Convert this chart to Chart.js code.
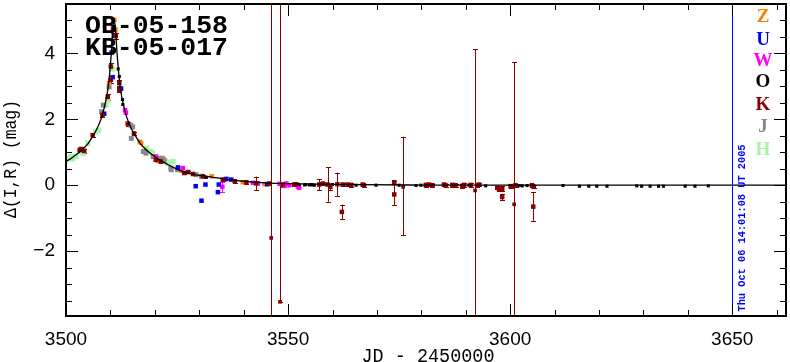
<!DOCTYPE html>
<html><head><meta charset="utf-8">
<script src="https://cdn.jsdelivr.net/npm/chart.js@4.4.0/dist/chart.umd.min.js"></script>
<style>html,body{margin:0;padding:0;background:#fff;overflow:hidden}</style>
</head><body>
<canvas id="c" width="790" height="362" style="display:block;width:790px;height:362px"></canvas>
<script>
// ---------- axis ticks ----------
const xTickLabels = [3500, 3550, 3600, 3650];
const yTickLabels = [-2, 0, 2, 4];
const xRange = [3500, 3662.1];
const yRange = [-3.97, 5.5];

// ---------- legend ----------
const seriesNames = ['Z', 'U', 'W', 'O', 'K', 'J', 'H'];
const seriesColors = ['#ff8000', '#0000ff', '#ff00ff', '#000000', '#8b0000', '#888888', '#aaf2aa'];

// ---------- model curve ----------
const modelT = [3500, 3501, 3502, 3503, 3504, 3505, 3506, 3507, 3508, 3508.7, 3509.3, 3509.8, 3510.2, 3510.5, 3510.85,
  3511.2, 3511.5, 3511.9, 3512.4, 3513.0, 3513.7, 3514.7, 3515.7, 3516.7, 3517.7, 3518.7, 3519.7, 3520.7, 3521.7,
  3523, 3524.5, 3526, 3528, 3530, 3533, 3536, 3540, 3545, 3550, 3556, 3565, 3580, 3600, 3628, 3662.1];
const modelM = [0.72, 0.80, 0.90, 1.00, 1.12, 1.27, 1.48, 1.72, 2.05, 2.40, 2.80, 3.35, 4.00, 4.60, 5.05,
  4.60, 4.00, 3.35, 2.80, 2.40, 2.05, 1.72, 1.48, 1.27, 1.12, 1.00, 0.90, 0.80, 0.72,
  0.62, 0.52, 0.43, 0.35, 0.30, 0.24, 0.18, 0.12, 0.07, 0.045, 0.03, 0.015, 0.005, 0.0, 0.0, 0.0];

// ---------- Z ----------
const zT = [3509.7, 3510.9, 3511.1, 3516.6, 3516.9, 3520.6, 3526.0, 3532.8, 3539.8, 3544.7, 3545.4, 3549.4];
const zM = [3.10, 5.02, 4.70, 1.32, 1.28, 0.74, 0.44, 0.27, 0.09, 0.03, 0.04, 0.03];
// ---------- U ----------
const uT = [3508.6, 3510.3, 3510.5, 3510.8, 3512.4, 3525.2, 3529.2, 3530.5, 3531.4, 3534.2, 3534.4, 3536.1, 3537.2, 3545.3];
const uM = [2.17, 4.03, 3.28, 4.53, 2.93, 0.54, -0.03, -0.47, 0.02, -0.21, 0.02, 0.19, 0.17, 0.03];
// ---------- W ----------
const wT = [3513.3, 3513.5, 3520.3, 3526.3, 3535.2, 3535.7, 3542.1, 3543.2, 3548.1, 3549.2, 3549.6, 3550.3, 3551.8, 3552.2, 3552.5];
const wM = [2.28, 2.20, 0.87, 0.52, -0.05, 0.17, 0.07, 0.05, 0.04, -0.02, 0.05, 0.0, 0.02, -0.04, -0.08];
const wE = [0, 0, 0, 0, 0.15, 0, 0, 0, 0, 0, 0, 0, 0, 0, 0];
// ---------- O ----------
const oT = [3511.75, 3512.0, 3512.7, 3512.8, 3531.6, 3552.5, 3553.7, 3554.0, 3554.8, 3555.2, 3555.5, 3555.9, 3560.0, 3565.3,
  3569.8, 3575.0, 3578.8, 3579.9, 3590.7, 3594.5, 3602.0, 3602.7, 3603.8, 3611.9, 3615.6, 3617.7, 3619.5, 3621.8,
  3628.5, 3629.6, 3631.5, 3633.4, 3634.5, 3639.4, 3641.6, 3644.6];
const oM = [3.53, 3.30, 2.60, 2.45, 0.24, 0.02, 0.01, 0.02, 0.01, 0.02, 0.01, 0.0, 0.02, 0.0,
  0.0, 0.0, -0.01, 0.0, 0.0, -0.02, -0.01, -0.02, -0.01, -0.01, -0.03, -0.03, -0.03, -0.03,
  -0.02, -0.03, -0.03, -0.03, -0.03, -0.03, -0.03, -0.02];
// ---------- K ----------
const kT = [3503.1, 3503.4, 3504.1, 3506.0, 3508.2, 3509.4, 3510.1, 3510.1, 3510.6, 3511.2, 3512.0, 3512.0, 3513.9, 3515.3,
  3520.2, 3521.3, 3526.6, 3527.5, 3528.6, 3530.8, 3535.3, 3538.0, 3540.6, 3542.8, 3545.8, 3548.8, 3551.4, 3551.8,
  3557.0, 3557.8, 3558.9, 3559.5, 3561.1, 3562.1, 3562.3, 3563.4, 3564.2, 3566.8, 3567.1, 3573.9, 3573.9,
  3581.0, 3581.7, 3582.5, 3585.1, 3585.5, 3587.0, 3587.7, 3589.2, 3589.6, 3591.1, 3592.6, 3593.0,
  3597.1, 3597.5, 3598.2, 3598.2, 3600.1, 3600.5, 3601.2, 3604.9, 3605.2, 3605.3];
const kM = [1.07, 1.10, 1.04, 1.52, 2.13, 2.68, 3.20, 3.60, 4.75, 4.53, 2.90, 3.10, 1.87, 1.57,
  0.77, 0.72, 0.37, 0.40, 0.34, 0.27, 0.17, 0.12, 0.09, 0.06, 0.05, 0.02, 0.02, 0.03,
  0.02, 0.05, 0.02, -0.05, 0.03, -0.81, 0.02, 0.02, 0.01, 0.02, -0.01, 0.09, -0.28,
  0.01, 0.02, 0.0, 0.02, -0.01, 0.01, 0.0, -0.02, 0.01, 0.01, 0.0, 0.02,
  -0.08, -0.13, -0.11, -0.36, -0.03, -0.03, 0.0, 0.0, -0.65, -0.05];
const kE = [0.05, 0.05, 0.05, 0.06, 0.06, 0.08, 0.1, 0.1, 0.12, 0.1, 0.08, 0.08, 0.06, 0.06,
  0.05, 0.05, 0.04, 0.04, 0.04, 0.04, 0.05, 0.05, 0.05, 0.2, 0.05, 0.06, 0.05, 0.05,
  0.17, 0.05, 0.52, 0.1, 0.35, 0.22, 0.05, 0.05, 0.05, 0.05, 0.05, 0.05, 0.33,
  0.05, 0.05, 0.05, 0.05, 0.05, 0.05, 0.05, 0.05, 0.05, 0.05, 0.05, 0.05,
  0.05, 0.05, 0.08, 0.1, 0.05, 0.05, 0.05, 0.05, 0.43, 0.05];
// K points with very large (asymmetric) error bars
const kBigT = [3546.2, 3548.2, 3575.9, 3592.1, 3600.9];
const kBigM = [-1.60, -3.54, -0.05, -0.16, -0.58];
const kBigHi = [12, 12, 1.52, 4.28, 4.31];
const kBigLo = [12, 0, 1.46, 12, 12];
// ---------- J ----------
const jT = [3508.0, 3508.4, 3509.7, 3514.6, 3514.7, 3515.0, 3517.4, 3517.6, 3518.0, 3519.6, 3520.7, 3521.7, 3522.1, 3523.6, 3523.7, 3525.1, 3529.3, 3530.5];
const jM = [2.23, 2.43, 2.98, 1.82, 1.42, 1.77, 1.02, 1.02, 0.97, 0.87, 0.82, 0.82, 0.77, 0.52, 0.47, 0.47, 0.32, 0.27];
// ---------- H ----------
const hT = [3500.9, 3501.1, 3501.5, 3502.2, 3503.0, 3503.9, 3504.9, 3506.7, 3507.3, 3509.0, 3509.4, 3510.5, 3511.2, 3518.1, 3518.7, 3519.0, 3519.5, 3522.5, 3522.8, 3523.2, 3524.1, 3526.0];
const hM = [0.82, 0.87, 0.80, 0.87, 1.02, 0.97, 1.27, 1.62, 1.67, 2.43, 2.58, 3.53, 4.73, 1.12, 1.02, 1.02, 0.97, 0.72, 0.67, 0.67, 0.72, 0.49];

// ---------- texts ----------
const titleLines = ['OB-05-158', 'KB-05-017'];
const xTitle = 'JD - 2450000';
const yTitle = 'Δ(I,R) (mag)';
const dateStamp = 'Thu Oct 06 14:01:08 UT 2005';
const stampJD = 3650;

const pts = (T, M) => T.map((t, i) => ({x: t, y: M[i]}));
function series(name, T, M, E, order, r) {
  const i = seriesNames.indexOf(name);
  return {label: name, data: pts(T, M), errs: E || null, backgroundColor: seriesColors[i], borderColor: seriesColors[i],
    pointStyle: 'rect', pointRadius: r, pointBorderWidth: 0, pointHoverRadius: r, showLine: false, order: order};
}

const datasets = [
  {label: 'model', data: pts(modelT, modelM), showLine: true, borderColor: '#000', borderWidth: 1.3,
   pointRadius: 0, pointHoverRadius: 0, cubicInterpolationMode: 'monotone', fill: false, order: 0},
  series('K', kT, kM, kE, 1, 3.2),
  {label: 'Kbig', data: pts(kBigT, kBigM), big: true, backgroundColor: seriesColors[4], borderColor: seriesColors[4],
   pointStyle: 'rect', pointRadius: 2.6, pointBorderWidth: 0, showLine: false, order: 1},
  series('O', oT, oM, null, 2, 2.2),
  series('U', uT, uM, null, 3, 3.2),
  series('W', wT, wM, wE, 3, 3.2),
  series('Z', zT, zM, null, 3, 3.2),
  series('J', jT, jM, null, 4, 3.5),
  series('H', hT, hM, null, 5, 3.8)
];

function fitText(ctx, txt, x, y, font, color, w, rot, baseline) {
  ctx.save();
  ctx.font = font;
  const m = ctx.measureText(txt).width;
  ctx.translate(x, y);
  if (rot) ctx.rotate(rot);
  if (w) ctx.scale(w / m, 1);
  ctx.fillStyle = color;
  ctx.textAlign = 'center';
  ctx.textBaseline = baseline || 'alphabetic';
  ctx.fillText(txt, 0, 0);
  ctx.restore();
}

const decor = {
  id: 'decor',
  beforeDatasetsDraw(chart) {
    const ctx = chart.ctx, a = chart.chartArea, xs = chart.scales.x, ys = chart.scales.y;
    ctx.save();
    ctx.beginPath(); ctx.rect(a.left, a.top, a.right - a.left, a.bottom - a.top); ctx.clip();
    ctx.lineWidth = 1;
    const bar = (t, lo, hi, col) => {
      const px = Math.round(xs.getPixelForValue(t)) + 0.5;
      const y1 = ys.getPixelForValue(lo), y2 = ys.getPixelForValue(hi);
      ctx.strokeStyle = col;
      ctx.beginPath(); ctx.moveTo(px, y1); ctx.lineTo(px, y2);
      ctx.moveTo(px - 2.5, Math.round(y1) + 0.5); ctx.lineTo(px + 2.5, Math.round(y1) + 0.5);
      ctx.moveTo(px - 2.5, Math.round(y2) + 0.5); ctx.lineTo(px + 2.5, Math.round(y2) + 0.5);
      ctx.stroke();
    };
    chart.data.datasets.forEach(ds => {
      if (ds.errs) ds.data.forEach((p, i) => { if (ds.errs[i] > 0) bar(p.x, p.y - ds.errs[i], p.y + ds.errs[i], ds.borderColor); });
    });
    kBigT.forEach((t, i) => bar(t, kBigM[i] - kBigLo[i], kBigM[i] + kBigHi[i], seriesColors[4]));
    ctx.restore();
  },
  afterDraw(chart) {
    const ctx = chart.ctx, a = chart.chartArea, xs = chart.scales.x, ys = chart.scales.y;
    ctx.save();
    // stamp line
    const sx = Math.round(xs.getPixelForValue(stampJD)) + 0.5;
    ctx.strokeStyle = '#0000ff'; ctx.lineWidth = 1;
    ctx.beginPath(); ctx.moveTo(sx, a.top); ctx.lineTo(sx, a.bottom); ctx.stroke();
    // ticks (inward, all sides)
    ctx.strokeStyle = '#000'; ctx.lineWidth = 1;
    ctx.beginPath();
    for (let v = 3500; v <= xRange[1]; v += 10) {
      const px = Math.round(xs.getPixelForValue(v)) + 0.5;
      const len = (v % 50 === 0) ? 12 : 6;
      ctx.moveTo(px, a.bottom); ctx.lineTo(px, a.bottom - len);
      ctx.moveTo(px, a.top); ctx.lineTo(px, a.top + len);
    }
    for (let k = -7; k <= 10; k++) {
      const v = k * 0.5;
      if (v < yRange[0] || v > yRange[1] - 0.05) continue;
      const py = Math.round(ys.getPixelForValue(v)) + 0.5;
      const len = (k % 4 === 0) ? 12 : 6;
      ctx.moveTo(a.left, py); ctx.lineTo(a.left + len, py);
      ctx.moveTo(a.right, py); ctx.lineTo(a.right - len, py);
    }
    ctx.stroke();
    // frame
    ctx.lineWidth = 2;
    ctx.strokeRect(a.left, a.top, a.right - a.left, a.bottom - a.top);
    ctx.restore();
    // titles
    fitText(ctx, titleLines[0], 156.5, 33, 'bold 26px "Liberation Mono"', '#000', 143);
    fitText(ctx, titleLines[1], 156.5, 55, 'bold 26px "Liberation Mono"', '#000', 143);
    fitText(ctx, xTitle, 428, 362, '20px "Liberation Mono"', '#000', 133);
    fitText(ctx, yTitle, 11, 159, '19px "Liberation Mono"', '#000', 118, -Math.PI / 2, 'middle');
    fitText(ctx, dateStamp, 742, 228, 'bold 11px "Liberation Mono"', '#0000ff', 167, -Math.PI / 2, 'middle');
    // legend letters
    const ly = [17, 40, 61, 82, 105, 127, 150];
    seriesNames.forEach((n, i) => fitText(ctx, n, 763, ly[i], 'bold 19px "Liberation Serif"', seriesColors[i], null, 0, 'middle'));
  }
};

new Chart(document.getElementById('c'), {
  type: 'scatter',
  data: {datasets},
  options: {
    responsive: false, animation: false, devicePixelRatio: 1,
    layout: {padding: {left: 0, right: 2, top: 1, bottom: 0}},
    plugins: {legend: {display: false}, tooltip: {enabled: false}},
    scales: {
      x: {type: 'linear', min: xRange[0], max: xRange[1],
          grid: {display: false, drawTicks: false}, border: {display: false},
          ticks: {color: '#000', font: {family: 'Liberation Sans', size: 19}, padding: 12, maxRotation: 0,
                  callback: v => String(v)},
          afterBuildTicks: s => { s.ticks = xTickLabels.map(v => ({value: v})); },
          afterFit: s => { s.height = 46; s.paddingLeft = 0; s.paddingRight = 0; }},
      y: {type: 'linear', min: yRange[0], max: yRange[1],
          grid: {display: false, drawTicks: false}, border: {display: false},
          ticks: {color: '#000', font: {family: 'Liberation Sans', size: 19}, padding: 11,
                  callback: v => v < 0 ? '\u2212' + Math.abs(v) : String(v)},
          afterBuildTicks: s => { s.ticks = yTickLabels.map(v => ({value: v})); },
          afterFit: s => { s.width = 66; s.paddingTop = 0; s.paddingBottom = 0; }}
    }
  },
  plugins: [decor]
});
</script>
</body></html>
